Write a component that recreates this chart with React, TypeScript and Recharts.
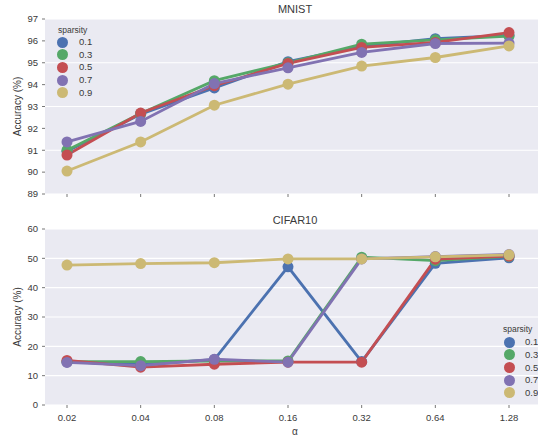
import React from 'react';
import { LineChart, Line, XAxis, YAxis, CartesianGrid, Legend } from 'recharts';

const alphas = ['0.02', '0.04', '0.08', '0.16', '0.32', '0.64', '1.28'];
const sparsities = ['0.1', '0.3', '0.5', '0.7', '0.9'];
const colors = ['#4C72B0', '#55A868', '#C44E52', '#8172B2', '#CCB974'];

const mnist01 = [90.95, 92.65, 93.85, 95.05, 95.75, 96.1, 96.25];
const mnist03 = [91.0, 92.68, 94.18, 95.0, 95.85, 96.05, 96.22];
const mnist05 = [90.78, 92.7, 93.95, 94.97, 95.7, 95.93, 96.38];
const mnist07 = [91.38, 92.32, 94.05, 94.77, 95.47, 95.88, 95.9];
const mnist09 = [90.05, 91.38, 93.06, 94.02, 94.85, 95.24, 95.77];

const cifar01 = [14.7, 13.8, 15.5, 47.1, 14.8, 48.3, 50.2];
const cifar03 = [14.8, 14.8, 15.0, 15.0, 50.4, 49.2, 50.7];
const cifar05 = [15.2, 12.9, 13.9, 14.6, 14.6, 49.7, 50.8];
const cifar07 = [14.5, 13.4, 15.6, 14.6, 49.8, 50.6, 51.3];
const cifar09 = [47.7, 48.2, 48.5, 49.8, 49.8, 50.5, 51.2];

const mnistTicks = [89, 90, 91, 92, 93, 94, 95, 96, 97];
const cifarTicks = [0, 10, 20, 30, 40, 50, 60];

const keys = ['s01', 's03', 's05', 's07', 's09'];
const mnistSeries = [mnist01, mnist03, mnist05, mnist07, mnist09];
const cifarSeries = [cifar01, cifar03, cifar05, cifar07, cifar09];

const build = (series: number[][]) =>
  alphas.map((a, i) => {
    const row: Record<string, any> = { alpha: a };
    keys.forEach((k, j) => (row[k] = series[j][i]));
    return row;
  });

const mnistData = build(mnistSeries);
const cifarData = build(cifarSeries);

const FONT = '"Liberation Sans", Arial, sans-serif';
const TEXT = '#3a3a3a';

const makeLegend = (tx: number, ty: number, mx: number, my: number, lx: number) => () => (
  <div style={{ position: 'relative', fontFamily: FONT, color: TEXT }}>
    <div style={{ position: 'absolute', left: tx, top: ty - 5, fontSize: 8.5, lineHeight: '10px', whiteSpace: 'nowrap' }}>
      sparsity
    </div>
    {sparsities.map((s, i) => (
      <React.Fragment key={s}>
        <div
          style={{
            position: 'absolute',
            left: mx - 5.5,
            top: my + i * 12.67 - 5.5,
            width: 11,
            height: 11,
            borderRadius: '50%',
            background: colors[i],
          }}
        />
        <div style={{ position: 'absolute', left: lx, top: my + i * 12.67 - 6, fontSize: 9.5, lineHeight: '12px', whiteSpace: 'nowrap' }}>
          {s}
        </div>
      </React.Fragment>
    ))}
  </div>
);

const renderLines = () =>
  keys.map((k, i) => (
    <Line
      key={k}
      type="linear"
      dataKey={k}
      stroke={colors[i]}
      strokeWidth={2.8}
      dot={{ r: 5.5, fill: colors[i], stroke: colors[i], strokeWidth: 0 }}
      activeDot={false}
      isAnimationActive={false}
    />
  ));

const legendWrap = { position: 'absolute' as const, left: 0, top: 0, width: 0, height: 0 };

export default function App() {
  return (
    <div style={{ position: 'absolute', left: 0, top: 0, width: 538, height: 438, background: '#fff', fontFamily: FONT }}>
      <div style={{ position: 'absolute', left: 295, top: 2, transform: 'translateX(-50%)', fontSize: 11, lineHeight: '14px', color: TEXT, whiteSpace: 'nowrap' }}>
        MNIST
      </div>
      <div style={{ position: 'absolute', left: 295, top: 213, transform: 'translateX(-50%)', fontSize: 11, lineHeight: '14px', color: TEXT, whiteSpace: 'nowrap' }}>
        CIFAR10
      </div>
      <div style={{ position: 'absolute', left: 0, top: 0 }}>
        <LineChart width={538} height={210} data={mnistData} margin={{ top: 19, right: 0, bottom: 0, left: 0 }}>
          <CartesianGrid vertical={false} stroke="#ffffff" strokeWidth={1.2} fill="#EAEAF2" fillOpacity={1} />
          <XAxis
            dataKey="alpha"
            height={16}
            padding={{ left: 22, right: 29 }}
            axisLine={false}
            tickLine={{ stroke: '#777' }}
            tickSize={3}
            tickFormatter={() => ''}
          />
          <YAxis
            domain={[89, 97]}
            ticks={mnistTicks}
            width={45}
            axisLine={false}
            tickLine={{ stroke: '#777' }}
            tickSize={3}
            tickMargin={4}
            tick={{ fontSize: 9.5, fill: TEXT, fontFamily: FONT }}
            label={{ value: 'Accuracy (%)', angle: -90, position: 'insideLeft', offset: 17, style: { textAnchor: 'middle', fontSize: 10, fill: TEXT, fontFamily: FONT } }}
          />
          {renderLines()}
          <Legend wrapperStyle={legendWrap} content={makeLegend(58, 30, 62, 42, 79)} />
        </LineChart>
      </div>
      <div style={{ position: 'absolute', left: 0, top: 210 }}>
        <LineChart width={538} height={228} data={cifarData} margin={{ top: 19, right: 0, bottom: 0, left: 0 }}>
          <CartesianGrid vertical={false} stroke="#ffffff" strokeWidth={1.2} fill="#EAEAF2" fillOpacity={1} />
          <XAxis
            dataKey="alpha"
            height={33}
            padding={{ left: 22, right: 29 }}
            axisLine={false}
            tickLine={{ stroke: '#777' }}
            tickSize={3}
            tickMargin={6}
            tick={{ fontSize: 9.5, fill: TEXT, fontFamily: FONT }}
            label={{ value: 'α', position: 'insideBottom', offset: 3, dx: 3.5, style: { fontSize: 10, fill: TEXT, fontFamily: FONT } }}
          />
          <YAxis
            domain={[0, 60]}
            ticks={cifarTicks}
            width={45}
            axisLine={false}
            tickLine={{ stroke: '#777' }}
            tickSize={3}
            tickMargin={4}
            tick={{ fontSize: 9.5, fill: TEXT, fontFamily: FONT }}
            label={{ value: 'Accuracy (%)', angle: -90, position: 'insideLeft', offset: 17, style: { textAnchor: 'middle', fontSize: 10, fill: TEXT, fontFamily: FONT } }}
          />
          {renderLines()}
          <Legend wrapperStyle={legendWrap} content={makeLegend(503, 119, 509, 132.3, 525)} />
        </LineChart>
      </div>
    </div>
  );
}
